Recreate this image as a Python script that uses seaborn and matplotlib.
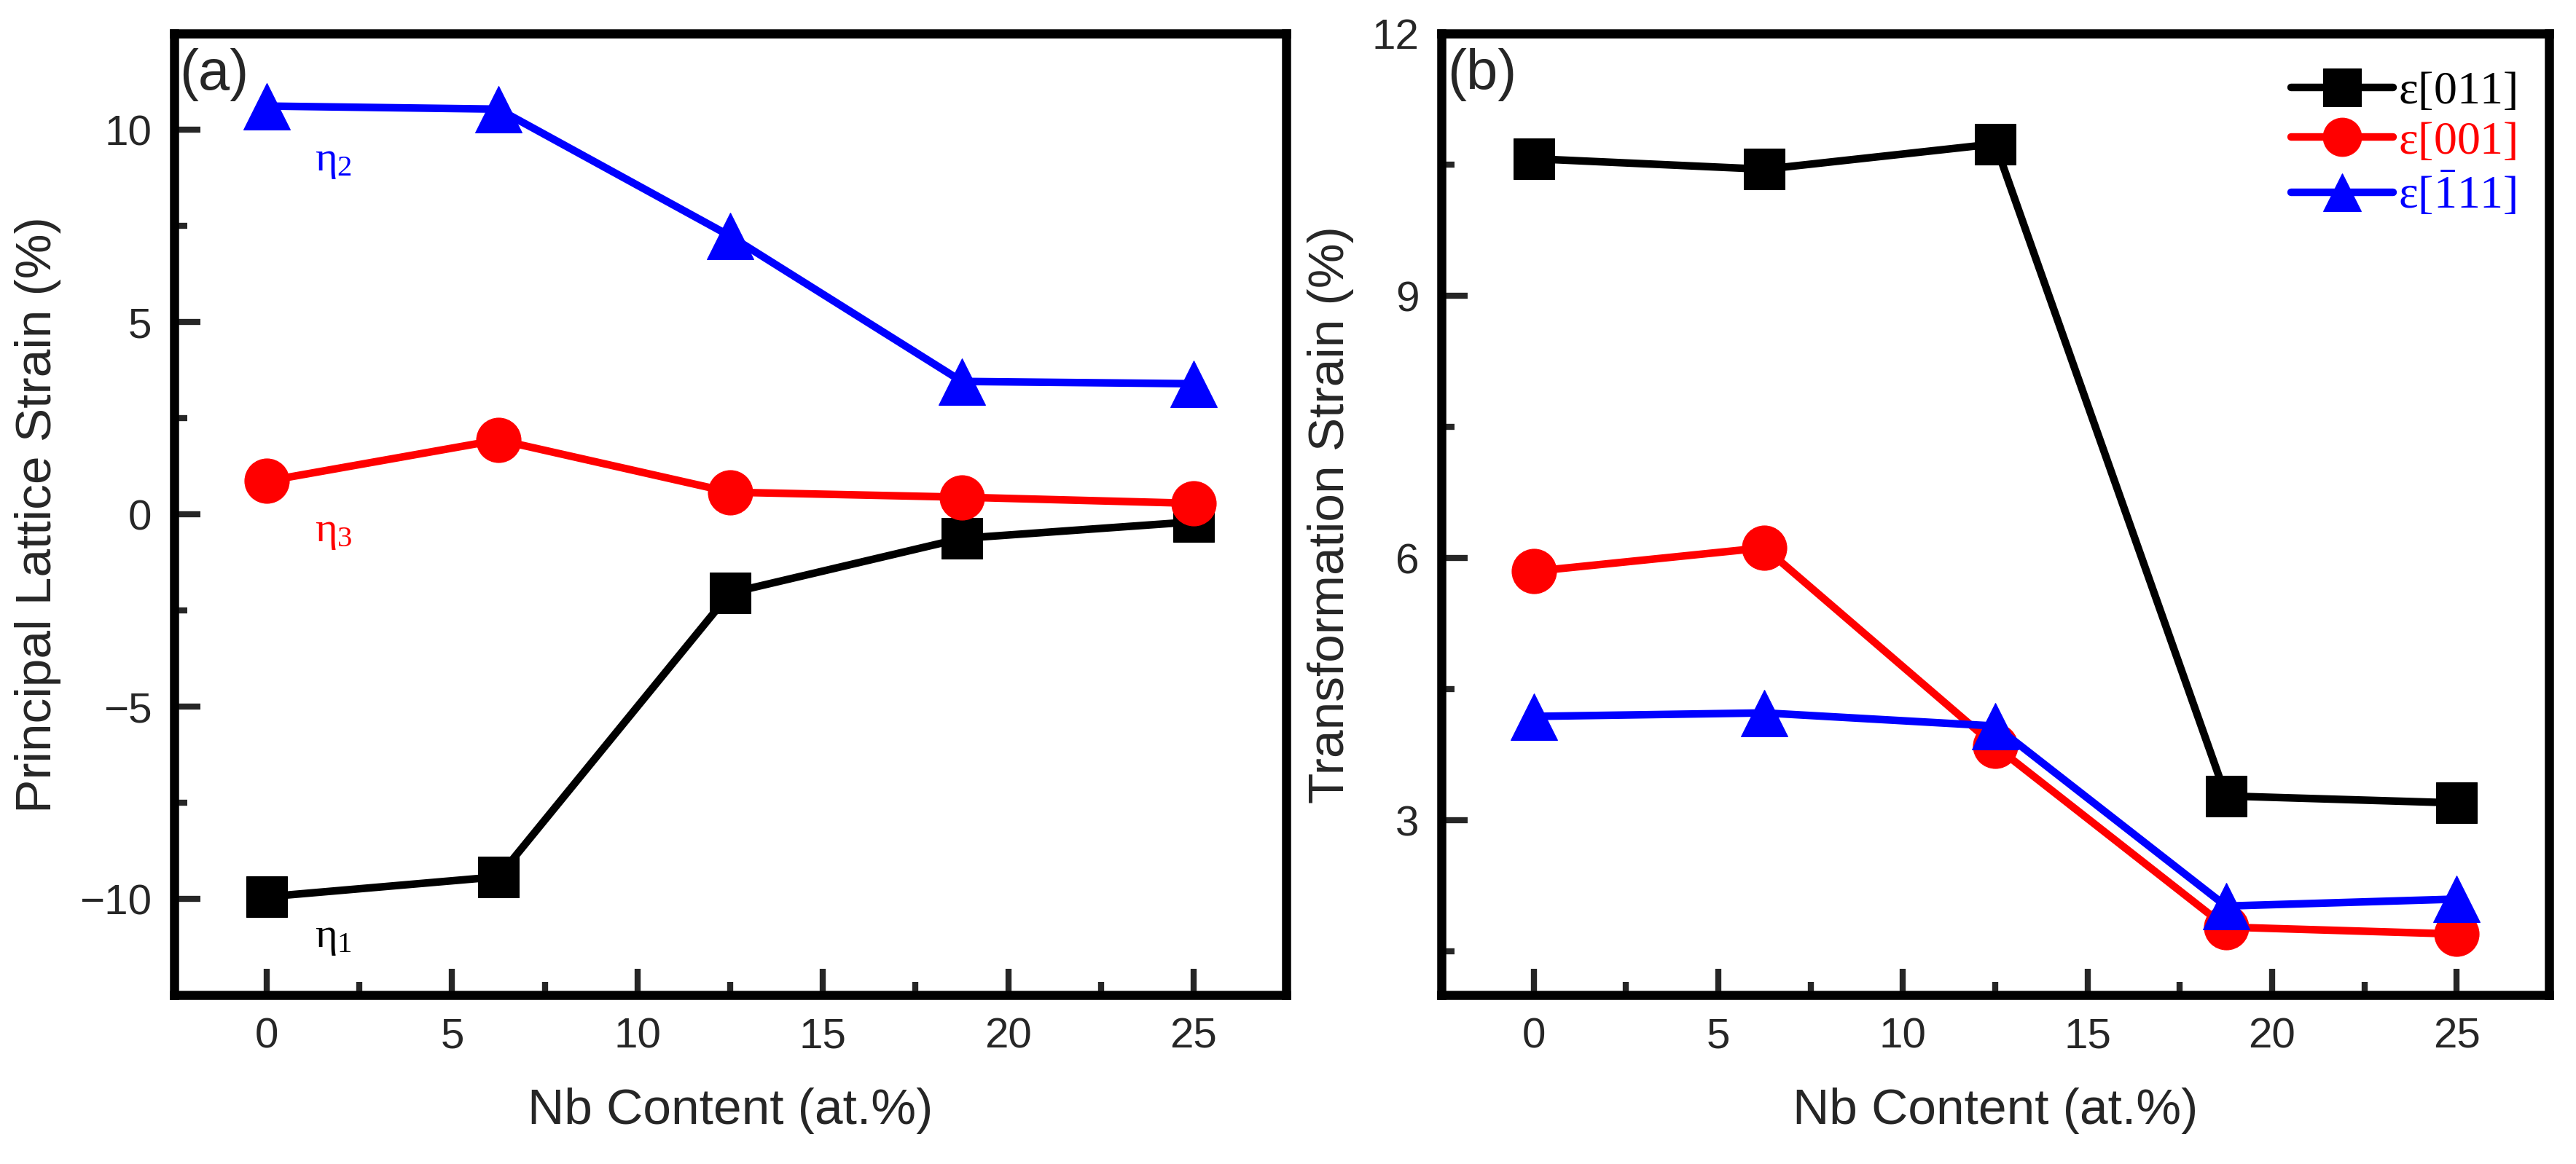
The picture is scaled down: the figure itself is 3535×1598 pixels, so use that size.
import numpy as np
import pandas as pd
import seaborn as sns
import matplotlib
matplotlib.use('Agg')
import matplotlib.pyplot as plt
from matplotlib.ticker import MultipleLocator

# Nb content (at.%)
nb = [0, 6.25, 12.5, 18.75, 25]

# (a) principal lattice strains (%)
eta1 = [-9.94, -9.42, -2.04, -0.62, -0.19]
eta2 = [10.62, 10.54, 7.24, 3.46, 3.40]
eta3 = [0.87, 1.94, 0.58, 0.45, 0.29]

# (b) transformation strains (%)
eps_011 = [10.57, 10.45, 10.74, 3.28, 3.20]
eps_001 = [5.85, 6.12, 3.85, 1.78, 1.70]
eps_m111 = [4.19, 4.23, 4.08, 2.02, 2.10]

labels_b = [r'$\varepsilon$[011]', r'$\varepsilon$[001]', r'$\varepsilon$[$\bar{1}$11]']

sns.set_theme(style='ticks')
plt.rcParams['font.family'] = ['Liberation Sans', 'DejaVu Sans']
plt.rcParams['mathtext.fontset'] = 'custom'
plt.rcParams['mathtext.rm'] = 'Liberation Serif'
plt.rcParams['mathtext.it'] = 'Liberation Serif'

fig = plt.figure(figsize=(35.35, 15.98), dpi=100)
ax1 = fig.add_axes([0.0676, 0.145, 0.4317, 0.826])
ax2 = fig.add_axes([0.5596, 0.145, 0.4299, 0.826])

lw = 7.5
styles = [('black', 's', 40), ('red', 'o', 44), ('blue', '^', 46)]

df_a = pd.DataFrame({'nb': nb, 'eta1': eta1, 'eta3': eta3, 'eta2': eta2})
for col, (c, m, ms) in zip(['eta1', 'eta3', 'eta2'], styles):
    sns.lineplot(data=df_a, x='nb', y=col, ax=ax1, color=c, marker=m,
                 markersize=ms, mec=c, linewidth=lw)

df_b = pd.DataFrame({'nb': nb, 'e011': eps_011, 'e001': eps_001, 'em111': eps_m111})
for col, (c, m, ms), lab in zip(['e011', 'e001', 'em111'], styles, labels_b):
    sns.lineplot(data=df_b, x='nb', y=col, ax=ax2, color=c, marker=m,
                 markersize=ms, mec=c, linewidth=lw, label=lab)

# eta annotations
ax1.text(1.3, 9.2, r'$\eta_2$', color='blue', fontsize=42, ha='left', va='center')
ax1.text(1.3, -0.45, r'$\eta_3$', color='red', fontsize=42, ha='left', va='center')
ax1.text(1.3, -11.0, r'$\eta_1$', color='black', fontsize=42, ha='left', va='center')

ax1.set_xlim(-2.5, 27.5)
ax1.set_ylim(-12.5, 12.5)
ax1.yaxis.set_major_locator(MultipleLocator(5))
ax1.yaxis.set_minor_locator(MultipleLocator(2.5))
ax1.set_ylabel('Principal Lattice Strain (%)', fontsize=50, labelpad=18)

ax2.set_xlim(-2.5, 27.5)
ax2.set_ylim(1, 12)
ax2.yaxis.set_major_locator(MultipleLocator(3))
ax2.yaxis.set_minor_locator(MultipleLocator(1.5))
ax2.set_ylabel('Transformation Strain (%)', fontsize=50, labelpad=18)

for ax, tag in [(ax1, '(a)'), (ax2, '(b)')]:
    ax.xaxis.set_major_locator(MultipleLocator(5))
    ax.xaxis.set_minor_locator(MultipleLocator(2.5))
    ax.set_xlabel('Nb Content (at.%)', fontsize=50, labelpad=30)
    ax.tick_params(which='major', direction='in', length=26, width=6,
                   labelsize=42, pad=22)
    ax.tick_params(which='minor', direction='in', length=13, width=6)
    for s in ax.spines.values():
        s.set_linewidth(9)
        s.set_color('black')
    ax.text(0.005, 0.985, tag, transform=ax.transAxes, fontsize=56,
            ha='left', va='top')

leg = ax2.legend(loc='upper right', bbox_to_anchor=(1.0, 0.995), frameon=False,
                 prop={'family': 'Liberation Serif', 'size': 46},
                 handlelength=2.2, handletextpad=0.1,
                 labelspacing=0.15, borderaxespad=0.3)
for t, (c, m, ms) in zip(leg.get_texts(), styles):
    t.set_color(c)
for h in leg.legend_handles:
    h.set_markersize(38)

fig.savefig('out.png', dpi=100)
